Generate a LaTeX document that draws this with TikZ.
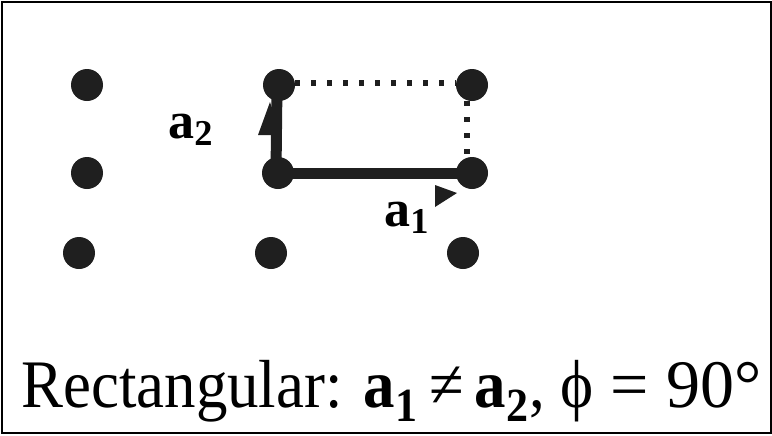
\documentclass[tikz,border=0pt]{standalone}
\usepackage{fontspec}
\usepackage{graphicx}
\setmainfont{Liberation Serif}
\usetikzlibrary{positioning}

\newcommand{\bvec}[1]{{\bfseries a\textsubscript{#1}}}

\begin{document}
\begin{tikzpicture}[
  x=0.5pt, y=-0.5pt,
  site/.style={circle, fill=black!88, minimum size=16pt, inner sep=0pt},
  vec/.style={line width=5.5pt, black!88},
  head/.style={fill=black!88},
  dotline/.style={line width=3pt, black!88, dash pattern=on 2.5pt off 5.5pt},
  lbl/.style={font=\fontsize{26}{26}\selectfont\bfseries, inner sep=0pt}
]

% frame
\useasboundingbox (0,0) rectangle (772,435);
\draw[line width=1pt] (1.5,1.5) rectangle (770.5,433);

% lattice sites
\node[site] (A1) at (87,85)  {};
\node[site] (B1) at (279,85) {};
\node[site] (C1) at (472,85) {};
\node[site] (A2) at (87,173) {};
\node[site] (B2) at (278,173) {};
\node[site] (C2) at (472,173) {};
\node[site] (A3) at (79,253) {};
\node[site] (B3) at (271,253) {};
\node[site] (C3) at (463,253) {};

% unit cell
\draw[dotline] ([yshift=1pt]B1.east) -- ([yshift=1pt]C1.west);
\draw[dotline] ([xshift=-2.5pt]C1.south) -- ([xshift=-2.5pt]C2.north);

% lattice vectors
\draw[vec] (B2.center) -- (C2.center);
\draw[vec] ([xshift=-1pt]B2.center) -- ([xshift=-1pt]B1.center);
\fill[head] (435,185) -- (457,193) -- (435,207) -- cycle;
\fill[head] (258,135) -- (270,102) -- (281,135) -- cycle;

\node[lbl] (a2) at (191,130) {a\textsubscript{2}};
\node[lbl] (a1) at (407,218) {a\textsubscript{1}};

% caption
\node[anchor=base west, inner sep=0pt, font=\fontsize{34}{34}\selectfont] (cap) at (21,407)
  {\scalebox{0.925}[1]{Rectangular: \bvec{1}\hspace{6pt}\char"2260\hspace{6pt}\bvec{2}, \char"03D5} = 90°};

\end{tikzpicture}
\end{document}
